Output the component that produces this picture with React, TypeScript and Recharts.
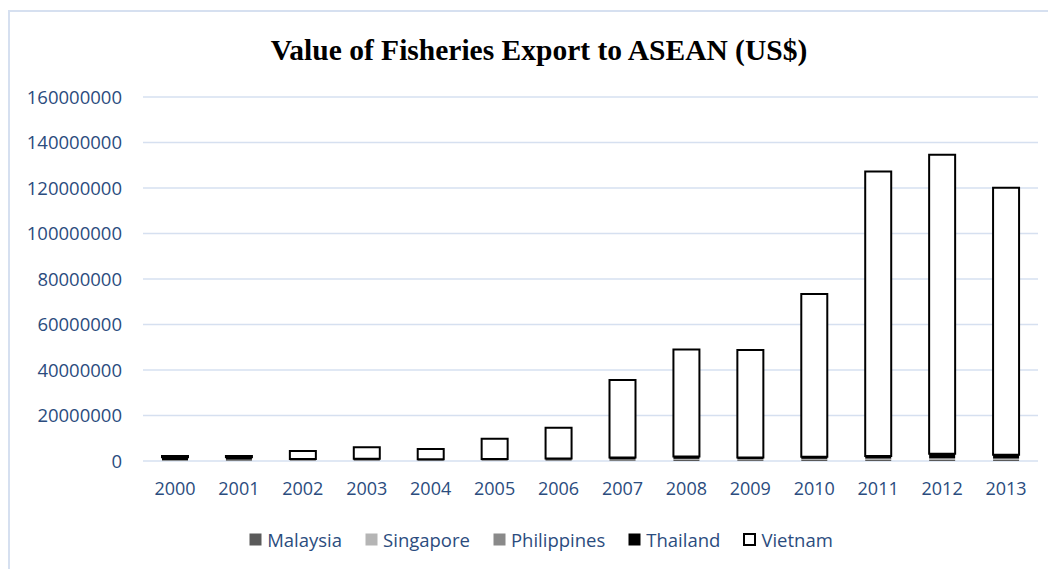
import React from 'react';
import { BarChart, Bar, XAxis, YAxis, CartesianGrid, Legend } from 'recharts';

const years = ['2000', '2001', '2002', '2003', '2004', '2005', '2006', '2007', '2008', '2009', '2010', '2011', '2012', '2013'];
const malaysia = [300000, 350000, 250000, 300000, 200000, 250000, 300000, 350000, 500000, 400000, 450000, 500000, 550000, 500000];
const singapore = [50000, 80000, 60000, 70000, 50000, 60000, 80000, 100000, 150000, 120000, 150000, 200000, 250000, 200000];
const philippines = [100000, 150000, 120000, 150000, 100000, 150000, 200000, 250000, 300000, 300000, 350000, 400000, 450000, 400000];
const thailand = [1200000, 1100000, 400000, 450000, 400000, 400000, 500000, 800000, 1000000, 700000, 900000, 1100000, 1900000, 1700000];
const vietnam = [550000, 520000, 3570000, 5030000, 4550000, 8940000, 13520000, 34100000, 47050000, 47280000, 71550000, 125000000, 131450000, 117300000];
const yTicks = [0, 20000000, 40000000, 60000000, 80000000, 100000000, 120000000, 140000000, 160000000];

const data = years.map((y, i) => ({
  year: y,
  Malaysia: malaysia[i],
  Singapore: singapore[i],
  Philippines: philippines[i],
  Thailand: thailand[i],
  Vietnam: vietnam[i],
}));

const legendItems = [
  { name: 'Malaysia', fill: '#5a5a5a', stroke: 'none' },
  { name: 'Singapore', fill: '#b5b5b5', stroke: 'none' },
  { name: 'Philippines', fill: '#8a8a8a', stroke: 'none' },
  { name: 'Thailand', fill: '#000000', stroke: 'none' },
  { name: 'Vietnam', fill: '#ffffff', stroke: '#000000' },
];

const textColor = '#2B4C7E';
const gridColor = '#D6E0F0';
const font = '"Open Sans", sans-serif';

const LegendContent = (props: any) => {
  const payload = props.payload || [];
  const names = payload.map((p: any) => p.value);
  const items = legendItems.filter((l) => names.includes(l.name));
  return (
    <div style={{ display: 'flex', justifyContent: 'center', paddingLeft: 18, fontFamily: font, fontSize: 18.5, color: textColor }}>
      {items.map((item, idx) => (
        <div key={item.name} style={{ display: 'flex', alignItems: 'center', marginRight: idx === items.length - 1 ? 0 : 23 }}>
          <svg width={13} height={13} style={{ marginRight: 5 }}>
            <rect x={item.stroke === 'none' ? 0.5 : 1} y={item.stroke === 'none' ? 0.5 : 1} width={item.stroke === 'none' ? 12 : 11} height={item.stroke === 'none' ? 12 : 11} fill={item.fill} stroke={item.stroke} strokeWidth={2} />
          </svg>
          <span>{item.name}</span>
        </div>
      ))}
    </div>
  );
};

export default function App() {
  return (
    <div style={{ position: 'relative', width: 1048, height: 561, overflow: 'hidden' }}>
      <div style={{ position: 'absolute', left: 0, top: 2, width: 1100, height: 600, borderLeft: `2px solid ${gridColor}`, borderTop: `2px solid ${gridColor}` }} />
      <div style={{ position: 'absolute', left: 0, top: 26, width: 1062, textAlign: 'center', fontFamily: '"Liberation Serif", "Times New Roman", serif', fontWeight: 'bold', fontSize: 29.5, color: '#000' }}>
        Value of Fisheries Export to ASEAN (US$)
      </div>
      <div style={{ position: 'absolute', left: 0, top: 2 }}>
        <BarChart width={1048} height={559} data={data} margin={{ top: 87, right: 18, bottom: 68, left: 0 }} barSize={26}>
          <CartesianGrid horizontal={true} vertical={false} stroke={gridColor} strokeWidth={1.5} />
          <XAxis dataKey="year" axisLine={false} tickLine={false} tickSize={0} tickMargin={21} height={40} interval={0}
            tick={{ fill: textColor, fontSize: 18, fontFamily: font }} />
          <YAxis domain={[0, 160000000]} ticks={yTicks} axisLine={false} tickLine={false} tickSize={0} tickMargin={21} width={135}
            tick={{ fill: textColor, fontSize: 18.5, fontFamily: font }} />
          <Legend verticalAlign="middle" align="center" layout="horizontal" content={<LegendContent />}
            wrapperStyle={{ top: 517, left: 0, width: 1048 }} />
          <Bar dataKey="Malaysia" stackId="a" fill="#5a5a5a" isAnimationActive={false} />
          <Bar dataKey="Singapore" stackId="a" fill="#b5b5b5" isAnimationActive={false} />
          <Bar dataKey="Philippines" stackId="a" fill="#8a8a8a" isAnimationActive={false} />
          <Bar dataKey="Thailand" stackId="a" fill="#000000" isAnimationActive={false} />
          <Bar dataKey="Vietnam" stackId="a" fill="#ffffff" stroke="#000000" strokeWidth={2} isAnimationActive={false} />
        </BarChart>
      </div>
    </div>
  );
}
